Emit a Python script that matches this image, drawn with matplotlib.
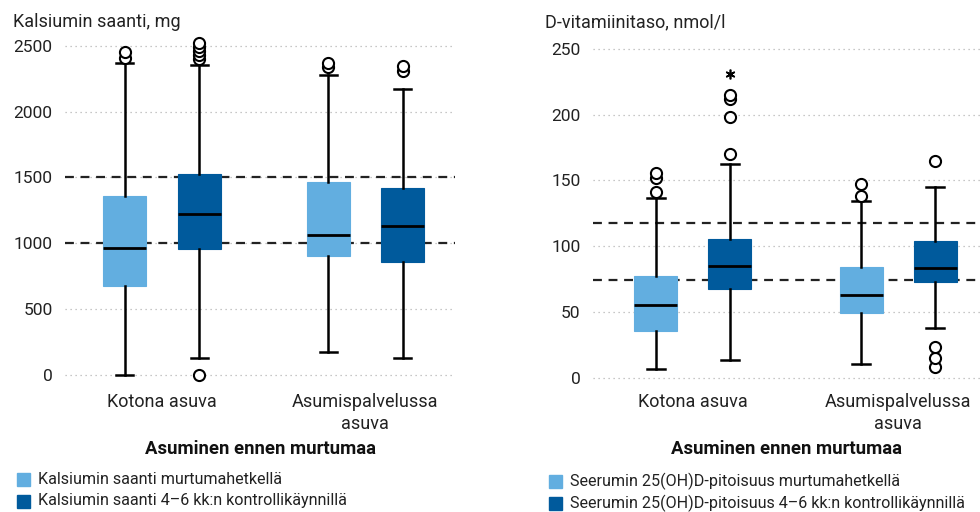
import matplotlib
matplotlib.use("Agg")
import matplotlib.pyplot as plt
from matplotlib.patches import Rectangle

plt.rcParams['font.family'] = ['Roboto', 'DejaVu Sans']

# ---------------- data ----------------
categories = ["Kotona asuva", "Asumispalvelussa\nasuva"]
xlabel_text = "Asuminen ennen murtumaa"

# Left: calcium intake (mg); order: [Kotona light, Kotona dark, Asumis light, Asumis dark]
ca_q1 = [673, 958, 900, 855]
ca_med = [961, 1222, 1062, 1133]
ca_q3 = [1358, 1525, 1464, 1421]
ca_wlo = [0, 127, 177, 127]
ca_whi = [2365, 2354, 2276, 2175]
ca_fliers = [[2410, 2455], [0, 2400, 2430, 2460, 2490, 2520], [2340, 2370], [2305, 2345]]
ca_extreme = [[], [], [], []]
ca_refs = [1000, 1500]
ca_ticks = [0, 500, 1000, 1500, 2000, 2500]
ca_title = "Kalsiumin saanti, mg"
ca_legend = ["Kalsiumin saanti murtumahetkellä", "Kalsiumin saanti 4\u20136 kk:n kontrollikäynnillä"]

# Right: vitamin D (nmol/l)
vd_q1 = [35.5, 67.2, 49.0, 73.0]
vd_med = [55.3, 85.0, 62.7, 83.7]
vd_q3 = [77.4, 105.7, 84.4, 104.0]
vd_wlo = [6.4, 13.2, 10.6, 37.6]
vd_whi = [137, 162.3, 134.4, 145.3]
vd_fliers = [[141, 152, 156], [170, 198, 212, 215], [138, 147], [8, 15, 23, 165]]
vd_extreme = [[], [231], [], []]
vd_refs = [74, 118]
vd_ticks = [0, 50, 100, 150, 200, 250]
vd_title = "D-vitamiinitaso, nmol/l"
vd_legend = ["Seerumin 25(OH)D-pitoisuus murtumahetkellä", "Seerumin 25(OH)D-pitoisuus 4\u20136 kk:n kontrollikäynnillä"]

LIGHT = "#62aee0"
DARK = "#005a9c"
colors = [LIGHT, DARK, LIGHT, DARK]

W, H = 980, 512
fig = plt.figure(figsize=(W / 100, H / 100), dpi=100)


def fx(px):
    return px / W


def fy(py):
    return 1 - py / H


def panel(ax_left_px, ax_right_px, ylim, q1, med, q3, wlo, whi, fliers, extreme, refs, ticks,
          title, title_x, legend, leg_sq_x, leg_txt_x, leg_y, offset, width, capw, xlim):
    ax = fig.add_axes([fx(ax_left_px), fy(385), fx(ax_right_px - ax_left_px), (385 - 35) / H])
    ax.set_xlim(*xlim)
    ax.set_ylim(*ylim)
    positions = []
    for g in range(2):
        positions += [g - offset, g + offset]
    stats = []
    for i in range(4):
        stats.append(dict(q1=q1[i], med=med[i], q3=q3[i], whislo=wlo[i], whishi=whi[i],
                          fliers=fliers[i]))
    for r in refs:
        ax.axhline(r, color="#222222", lw=1.6, ls=(0, (4, 3)), zorder=1)
    for t in ticks:
        ax.axhline(t, color="#b5b5b5", lw=0.9, ls=(0, (1, 3)), zorder=0)
    bp = ax.bxp(stats, positions=positions, widths=width, patch_artist=True,
                showfliers=True, capwidths=capw,
                boxprops=dict(linewidth=0.8),
                medianprops=dict(color="black", linewidth=2.0),
                whiskerprops=dict(color="black", linewidth=1.8),
                capprops=dict(color="black", linewidth=1.8),
                flierprops=dict(marker="o", markerfacecolor="white", markeredgecolor="black",
                                markersize=8, markeredgewidth=1.5, linestyle="none"))
    for patch, c in zip(bp["boxes"], colors):
        patch.set_facecolor(c)
        patch.set_edgecolor(c)
        patch.set_zorder(2)
    for i, ex in enumerate(extreme):
        if ex:
            ax.plot([positions[i]] * len(ex), ex, ls="none", marker=(6, 2, 0),
                    markersize=7, markeredgecolor="black", markeredgewidth=1.2, zorder=3)
    ax.set_yticks(ticks)
    ax.set_yticklabels([str(t) for t in ticks], fontsize=12.5, color="#222222")
    ax.tick_params(axis="y", length=0, pad=9)
    ax.set_xticks([0, 1])
    ax.set_xticklabels(categories, fontsize=13, color="#222222", linespacing=1.25)
    ax.tick_params(axis="x", length=0, pad=6)
    for s in ax.spines.values():
        s.set_visible(False)
    ax.set_xlabel(xlabel_text, fontsize=13.3, fontweight="bold", color="#111111", labelpad=5)
    fig.text(fx(title_x), fy(22), title, fontsize=13, color="#222222", ha="left", va="center")
    for j, (lab, c) in enumerate(zip(legend, [LIGHT, DARK])):
        yc = leg_y[j]
        fig.patches.append(Rectangle((fx(leg_sq_x), fy(yc + 6.5)), fx(13), 13 / H,
                                     transform=fig.transFigure, color=c))
        fig.text(fx(leg_txt_x), fy(yc), lab, fontsize=11.6, color="#222222", ha="left", va="center")
    return ax


# left axes: 0 at y=375, 2500 at 45.7 -> axes from 35..385
sc_l = (375 - 45.7) / 2500
ylim_l = (-(385 - 375) / sc_l, 2500 + (45.7 - 35) / sc_l)
g_l = (161.75, 365.25)
u_l = g_l[1] - g_l[0]
xlim_l = ((65 - g_l[0]) / u_l, (455 - g_l[0]) / u_l)
panel(65, 455, ylim_l, ca_q1, ca_med, ca_q3, ca_wlo, ca_whi, ca_fliers, ca_extreme, ca_refs,
      ca_ticks, ca_title, 13, ca_legend, 17, 38, (479, 501), 37.25 / u_l, 43 / u_l, 17 / u_l, xlim_l)

sc_r = (377.7 - 49) / 250
ylim_r = (-(385 - 377.7) / sc_r, 250 + (49 - 35) / sc_r)
g_r = (692.5, 898.25)
u_r = g_r[1] - g_r[0]
xlim_r = ((593 - g_r[0]) / u_r, (980 - g_r[0]) / u_r)
panel(593, 980, ylim_r, vd_q1, vd_med, vd_q3, vd_wlo, vd_whi, vd_fliers, vd_extreme, vd_refs,
      vd_ticks, vd_title, 545, vd_legend, 549, 570, (481, 503), 37 / u_r, 42.5 / u_r, 18 / u_r, xlim_r)

fig.savefig("out.png", dpi=100)
